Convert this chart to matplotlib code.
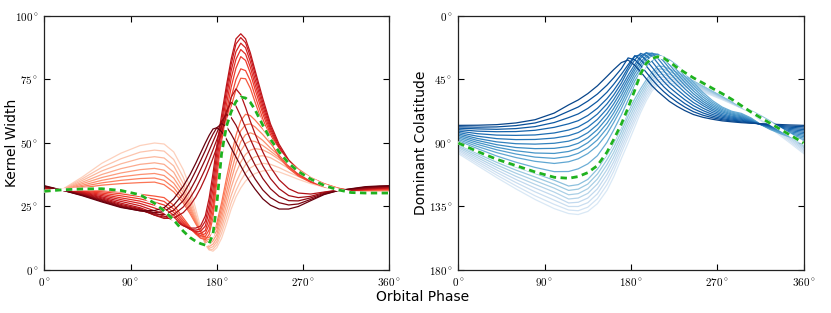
import numpy as np
import matplotlib
matplotlib.use("Agg")
import matplotlib.pyplot as plt

# ---------------- data: left panel (Kernel Width, degrees) ----------------
phase_left = [0, 20, 40, 60, 80, 100, 115, 125, 135, 145, 152, 158, 163, 168, 172, 176, 180,
              185, 190, 195, 200, 205, 210, 215, 220, 228, 236, 245, 255, 265, 278, 292,
              306, 320, 335, 350, 360]

kw_00 = [30.4, 32.0, 36.7, 42, 46, 49, 50, 49.6, 46.5, 39.5, 32.5, 24, 17, 11, 8, 7.4, 8.8, 12.5, 18, 24, 28.8, 32.3, 35, 36.8, 38, 39, 39.3, 38.6, 37.2, 35.7, 34, 32.6, 31.6, 31, 30.7, 30.5, 30.4]
kw_01 = [30.6, 31.9, 36, 40.4, 43.8, 46.4, 47.2, 46.8, 43.5, 36.5, 29.5, 22, 15.5, 10, 7.9, 8.2, 10, 14.5, 20.5, 26.5, 31.3, 35.2, 38.2, 40.2, 41.3, 42, 41.6, 40.3, 38.5, 36.8, 34.8, 33.1, 31.8, 31.1, 30.8, 30.7, 30.6]
kw_02 = [30.8, 31.8, 35.3, 39, 41.8, 43.9, 44.6, 44.1, 41, 34, 27.5, 21, 15.5, 10.5, 8.5, 9.2, 11.2, 16.5, 23, 29.3, 34.5, 38.5, 41.5, 43.5, 44.6, 45, 44.2, 42.3, 40, 37.8, 35.5, 33.5, 32, 31.2, 30.9, 30.8, 30.8]
kw_03 = [31.0, 31.7, 34.6, 37.6, 39.9, 41.6, 42.2, 41.6, 38.5, 32, 26, 20, 15, 10.8, 9.2, 10.2, 12.5, 18.5, 25.5, 32.5, 38.3, 42.5, 45.5, 47.2, 47.8, 47.3, 45.8, 43.5, 40.8, 38.5, 35.9, 33.8, 32.1, 31.2, 30.9, 30.9, 31.0]
kw_04 = [31.1, 31.6, 34, 36.4, 38.2, 39.5, 40, 39.3, 36.2, 30.5, 25, 19.5, 15, 11.2, 10, 11.5, 14, 20.5, 28, 35.5, 42, 46.8, 49.8, 50.8, 50.6, 49, 46.8, 44.2, 41.3, 38.8, 36, 33.8, 32.1, 31.2, 31, 31, 31.1]
kw_05 = [31.3, 31.5, 33.4, 35.3, 36.7, 37.6, 38, 37.2, 34.2, 29, 24, 19, 15, 11.8, 11, 13, 15.5, 22.5, 30.5, 38.5, 45.5, 50.5, 53.3, 54, 53.3, 51, 48, 45, 41.8, 39, 36.1, 33.9, 32.2, 31.2, 31.1, 31.2, 31.3]
kw_06 = [31.4, 31.4, 32.9, 34.3, 35.3, 36, 36.2, 35.3, 32.4, 27.6, 23, 18.6, 15, 12.3, 12, 14.5, 17, 24.5, 33.5, 42, 49.5, 54.8, 57.2, 57.5, 56.3, 53.3, 49.8, 46, 42.5, 39.3, 36.2, 33.9, 32.2, 31.2, 31.2, 31.3, 31.4]
kw_07 = [31.6, 31.4, 32.4, 33.4, 34, 34.4, 34.6, 33.6, 30.8, 26.4, 22.2, 18.2, 15.1, 12.8, 12.8, 14.8, 18.5, 26.5, 36, 45, 53, 58.8, 61.3, 60.8, 59, 55.5, 51.5, 47.3, 43.3, 39.8, 36.4, 34, 32.3, 31.2, 31.3, 31.5, 31.6]
kw_08 = [31.7, 31.4, 31.5, 31.3, 30.7, 29.8, 29.1, 28.5, 25.5, 20.5, 17, 14.2, 12.5, 12, 14, 20.5, 31.5, 44, 55.5, 64.5, 71, 75.5, 75.3, 71.5, 66, 57.5, 50.5, 44.5, 40, 37, 34.5, 32.8, 31.6, 31.1, 31.4, 31.6, 31.7]
kw_09 = [31.8, 31.4, 31.2, 30.8, 30, 28.9, 27.9, 27, 24, 19.6, 16.6, 14.3, 13, 13.2, 15.8, 23, 34, 47, 58.5, 68, 75, 79.2, 78.5, 74.5, 68.5, 59.5, 52, 45.5, 40.7, 37.4, 34.7, 32.9, 31.6, 31.1, 31.5, 31.7, 31.8]
kw_10 = [32.0, 31.4, 31.0, 30.3, 29.2, 28, 26.7, 25.6, 22.7, 18.9, 16.3, 14.5, 13.6, 14.3, 18, 25.5, 37, 50, 62, 72, 79.5, 84, 82.5, 77.5, 71, 61.5, 53.3, 46.5, 41.3, 37.8, 34.9, 33, 31.7, 31.1, 31.6, 31.9, 32.0]
kw_11 = [32.1, 31.4, 30.8, 29.8, 28.4, 27.1, 25.5, 24.3, 21.6, 18.3, 16.1, 14.8, 14.3, 15.6, 20.3, 28.5, 40, 53, 65, 75.5, 83, 86.8, 85, 79.8, 73, 63, 54.5, 47.3, 41.8, 38.2, 35.1, 33.1, 31.7, 31.2, 31.7, 32, 32.1]
kw_12 = [32.3, 31.4, 30.6, 29.3, 27.7, 26.2, 24.4, 23.1, 20.7, 17.8, 16, 15.2, 15.2, 17.3, 23, 31.8, 43, 56, 68, 78.5, 86, 89.3, 87.5, 82, 75, 64.5, 55.5, 48, 42.3, 38.5, 35.3, 33.2, 31.8, 31.3, 31.8, 32.1, 32.3]
kw_13 = [32.4, 31.4, 30.4, 28.8, 27, 25.3, 23.3, 22.1, 20, 17.5, 16.1, 15.7, 16.2, 19.2, 25.7, 35, 46, 58.5, 70.5, 81, 89, 91.5, 89.5, 84, 77, 66, 56.5, 48.7, 42.8, 38.9, 35.5, 33.3, 31.8, 31.3, 31.9, 32.2, 32.4]
kw_14 = [32.5, 31.4, 30.2, 28.4, 26.3, 24.5, 22.4, 21.2, 19.5, 17.4, 16.5, 16.5, 17.3, 21.3, 28.3, 38, 49, 61, 72.5, 83, 91, 93, 91, 85.5, 78.5, 67.5, 57.5, 49.5, 43.3, 39.2, 35.7, 33.4, 31.9, 31.4, 32, 32.3, 32.5]
kw_15 = [32.6, 31.3, 30, 28, 25.8, 24.1, 21.6, 20.3, 20.4, 22.6, 25.4, 28.7, 32.2, 36.3, 40, 44, 48.3, 54, 61, 68, 71.3, 69, 64, 58.5, 53.5, 46.5, 40.5, 35.5, 32, 30.3, 29.9, 30.7, 31.4, 31.6, 32, 32.4, 32.6]
kw_16 = [32.8, 31.3, 29.8, 27.7, 25.4, 23.8, 21.6, 20.8, 21.8, 24.8, 28.3, 32, 35.8, 39.8, 43.5, 47.3, 51.3, 56.5, 62.5, 66, 64.5, 60.5, 56, 51.5, 47.3, 41, 36, 32, 29.3, 28.5, 29, 30.5, 31.4, 31.7, 32.2, 32.6, 32.8]
kw_17 = [32.9, 31.3, 29.6, 27.4, 25.1, 23.5, 22, 21.8, 23.5, 27.3, 31.3, 35.5, 39.5, 43.5, 47, 50.5, 54, 58.5, 61.3, 60, 57, 53, 49, 45, 41.3, 36, 32, 29, 27.3, 27.2, 28.4, 30.2, 31.3, 31.8, 32.4, 32.8, 32.9]
kw_18 = [33.0, 31.3, 29.4, 27.1, 24.8, 23.3, 22.6, 23, 25.5, 30, 34.5, 39, 43, 47, 50.5, 53.5, 56, 57.6, 56.5, 53.5, 50, 46.3, 42.5, 39, 35.8, 31.5, 28.5, 26.5, 25.6, 26, 27.8, 29.9, 31.2, 31.9, 32.6, 32.9, 33.0]
kw_19 = [33.2, 31.3, 29.2, 26.8, 24.6, 23.3, 23.4, 24.5, 28, 33, 37.5, 42, 46, 50, 53, 55.5, 56, 54.5, 51.5, 48, 44.5, 41, 37.5, 34.5, 31.8, 28, 25.5, 24, 24, 25, 27.3, 29.7, 31.2, 32, 32.8, 33.1, 33.2]
kw_green = [31.0, 31.6, 31.9, 32, 31.3, 29.6, 26.3, 23.3, 19.7, 15.3, 12.8, 11.3, 10.4, 9.8, 10.5, 14, 26, 46, 56.5, 62.3, 66.3, 68.1, 67.7, 66, 63, 57, 51.5, 46.5, 42, 38.8, 35.8, 33.3, 31.6, 30.5, 30.3, 30.3, 30.3]

# ---------------- data: right panel (Dominant Colatitude, degrees) ----------------
phase_right = [0, 20, 40, 60, 80, 100, 115, 125, 135, 145, 155, 162, 170, 177, 184, 190, 196,
               202, 208, 214, 220, 228, 236, 245, 255, 265, 275, 285, 295, 305, 315, 325,
               335, 345, 360]

dc_00 = [97.5, 106, 114.5, 122.5, 130, 136.5, 140, 140.7, 138.5, 133, 123.5, 114, 101, 90, 78.5, 68.5, 60, 53, 48.8, 48.3, 48.8, 49.5, 50.5, 52, 54, 56.5, 59.3, 62.3, 65.3, 68.5, 74, 79.3, 84.5, 89.6, 97.5]
dc_01 = [96.5, 104.6, 112.7, 120.3, 127.4, 133.5, 137.5, 138, 135.5, 129.5, 119.5, 110, 97, 86, 75, 66, 57.8, 51.2, 46.8, 46.6, 47.5, 48.2, 49.5, 51.2, 53.4, 56, 58.9, 62, 65.2, 68.2, 73.5, 78.6, 83.6, 88.6, 96.5]
dc_02 = [95.4, 103.2, 110.9, 118, 124.6, 130.5, 135, 135, 132.3, 126, 115.8, 106.5, 94, 83, 72.3, 63.6, 55.7, 49.5, 45.2, 45, 46, 47, 48.4, 50.3, 52.8, 55.5, 58.6, 61.8, 65.1, 68, 73, 77.9, 82.8, 87.6, 95.4]
dc_03 = [94.4, 101.8, 109.1, 115.8, 121.9, 127.6, 132.5, 132, 129, 122.5, 112.3, 103.3, 91, 80, 69.5, 61.2, 53.6, 47.6, 43.4, 43.2, 44.5, 45.7, 47.3, 49.4, 52.1, 55, 58.3, 61.6, 65, 67.8, 72.5, 77.2, 82, 86.6, 94.4]
dc_04 = [93.3, 100.4, 107.3, 113.6, 119.3, 124.8, 129.7, 129, 125.7, 119, 108.8, 100, 88, 77, 66.8, 58.8, 51.5, 45.7, 41.5, 41.4, 43, 44.4, 46.2, 48.6, 51.5, 54.6, 58, 61.4, 64.9, 67.6, 72, 76.5, 81.1, 85.6, 93.3]
dc_05 = [92.3, 99, 105.5, 111.4, 116.7, 122, 126.7, 125.9, 122.4, 115.5, 105.3, 96.7, 85, 74, 64.1, 56.4, 49.4, 43.8, 39.6, 39.6, 41.4, 43, 45.1, 47.7, 50.9, 54.2, 57.7, 61.2, 64.8, 67.4, 71.5, 75.8, 80.2, 84.6, 92.3]
dc_06 = [91.2, 97.6, 103.7, 109.2, 114.1, 119.2, 123.6, 122.7, 119.1, 112, 101.8, 93.4, 82, 71, 61.4, 54, 47.3, 41.8, 37.5, 37.7, 39.5, 41.5, 44, 46.9, 50.2, 53.7, 57.3, 61, 64.6, 67.2, 71, 75.1, 79.3, 83.6, 91.2]
dc_07 = [90.2, 96.2, 101.9, 107, 111.5, 116.4, 120.5, 119.5, 115.8, 108.5, 98.3, 90.1, 79, 68, 58.7, 51.6, 45.2, 39.8, 35.5, 35.8, 37.5, 40, 42.8, 46, 49.6, 53.3, 57, 60.8, 64.5, 67, 70.5, 74.4, 78.4, 82.6, 90.2]
dc_08 = [88.5, 94, 99.2, 103.6, 107.3, 110.3, 110.2, 108.3, 104.8, 99, 89.5, 80.8, 70, 59.5, 49, 41.5, 35.5, 31.5, 29.5, 29.5, 31, 35, 40.5, 47, 54.2, 60, 64.5, 67.5, 69, 72.2, 76.8, 80.4, 83.2, 85.6, 88.5]
dc_09 = [87.5, 92.5, 96.8, 100.3, 103, 104.5, 103.3, 101.2, 97.5, 92, 83.5, 75.5, 65.5, 55.5, 46, 39.2, 33.5, 29.8, 28.5, 29, 31.5, 36.5, 42.5, 49, 55.8, 61.2, 65.3, 68.1, 69.6, 72.6, 76.8, 80.1, 82.7, 84.9, 87.5]
dc_10 = [86.5, 91, 94.8, 97.8, 100, 100.9, 99.5, 97.3, 93.5, 87.8, 79.5, 72, 62.3, 52.5, 43.3, 37, 31.5, 28, 27.7, 29, 32.5, 38.5, 44.6, 51, 57.4, 62.4, 66.2, 68.8, 70.2, 73, 76.8, 79.8, 82.2, 84.2, 86.5]
dc_11 = [85.5, 89.6, 93, 95.5, 97.1, 97.4, 96, 93.8, 89.8, 84, 76, 68.7, 59.2, 49.8, 40.8, 34.8, 29.5, 26.9, 27, 30, 34.5, 40.8, 46.8, 53, 59, 63.6, 67.1, 69.5, 70.8, 73.4, 76.8, 79.5, 81.7, 83.5, 85.5]
dc_12 = [84.5, 88.2, 91.2, 93.2, 94, 93.8, 92.4, 90.2, 86.3, 80.5, 72.5, 65.5, 56.2, 47, 38.5, 32.7, 28, 26.3, 27.8, 32, 37, 43.2, 49, 55, 60.5, 64.8, 68, 70.2, 71.4, 73.8, 76.8, 79.2, 81.2, 82.8, 84.5]
dc_13 = [83.5, 86.8, 89.2, 90.5, 90.8, 90.2, 88.7, 86.5, 82.7, 77, 69.2, 62.3, 53.3, 44.5, 36.5, 30, 26.3, 26.5, 30, 35, 40, 46, 51.5, 57, 62, 66, 69, 71, 72, 74.2, 76.8, 78.9, 80.6, 82, 83.5]
dc_14 = [82.5, 85.2, 86.9, 87.6, 87.5, 86.5, 84.8, 82.6, 78.8, 73.3, 65.8, 59.2, 50.5, 42, 34.3, 28.5, 26, 28.5, 33.5, 38.6, 43.6, 49, 54, 59, 63.5, 67.2, 70, 71.7, 72.6, 74.6, 76.8, 78.6, 80, 81.2, 82.5]
dc_15 = [81.5, 83.4, 84.4, 84.6, 84.3, 82.9, 80.8, 78.6, 74.8, 69.5, 62.3, 56, 47.6, 38.5, 31, 26.5, 28, 32.3, 37.5, 42.5, 47.2, 52, 56.6, 61.3, 65.3, 68.5, 70.9, 72.4, 73.2, 74.9, 76.8, 78.3, 79.4, 80.4, 81.5]
dc_16 = [80.5, 81.6, 82, 81.9, 81, 78.9, 76.4, 74.2, 70.5, 65.4, 58.6, 52.7, 44.8, 36.5, 28.5, 27.5, 31.5, 36.3, 41.5, 46.3, 50.5, 55, 59.3, 63.5, 67, 69.8, 71.8, 73.1, 73.8, 75.2, 76.7, 77.9, 78.8, 79.6, 80.5]
dc_17 = [79.5, 80, 80.3, 79.8, 78.4, 75.5, 72, 69.4, 65.5, 60.5, 54, 48.4, 41.3, 34.5, 28.1, 31, 35.5, 40.5, 45.5, 50, 53.8, 58, 62, 65.7, 68.7, 71, 72.7, 73.8, 74.4, 75.5, 76.6, 77.5, 78.2, 78.8, 79.5]
dc_18 = [78.5, 78.8, 78.6, 77.7, 75.8, 72, 67.5, 64.5, 60.3, 55.3, 49, 43.8, 37.3, 29.7, 31, 35, 40, 45, 49.5, 53.5, 57, 61, 64.5, 67.8, 70.3, 72.1, 73.5, 74.4, 75, 75.8, 76.5, 77.1, 77.6, 78, 78.5]
dc_19 = [77.5, 77.4, 77, 75.8, 73.5, 68.8, 63, 59.5, 55, 49.5, 42.8, 38, 33, 31.2, 35, 39.5, 44.5, 49.5, 53.5, 57, 60.5, 64, 67, 69.8, 71.8, 73.2, 74.3, 75, 75.6, 76, 76.3, 76.6, 76.9, 77.2, 77.5]
dc_green = [90, 96, 101.5, 106, 110.5, 114.3, 115, 113.8, 111, 106, 96.5, 87.5, 76.5, 65, 52.5, 41, 33.5, 30, 28.8, 29.8, 32.5, 36.5, 40, 43.8, 47.5, 51.3, 55, 59, 63.5, 68, 72, 76, 80, 84, 90]

# family position of each curve (index 8 of 21 is the highlighted green curve)
family_slots = [0, 1, 2, 3, 4, 5, 6, 7, 9, 10, 11, 12, 13, 14, 15, 16, 17, 18, 19, 20]

kw_family = [kw_00, kw_01, kw_02, kw_03, kw_04, kw_05, kw_06, kw_07, kw_08, kw_09,
             kw_10, kw_11, kw_12, kw_13, kw_14, kw_15, kw_16, kw_17, kw_18, kw_19]
dc_family = [dc_00, dc_01, dc_02, dc_03, dc_04, dc_05, dc_06, dc_07, dc_08, dc_09,
             dc_10, dc_11, dc_12, dc_13, dc_14, dc_15, dc_16, dc_17, dc_18, dc_19]

x_ticks = [0, 90, 180, 270, 360]
kw_ticks = [0, 25, 50, 75, 100]
dc_ticks = [0, 45, 90, 135, 180]

plt.rcParams["mathtext.fontset"] = "cm"
fig = plt.figure(figsize=(8.31, 3.13), dpi=100)
axL = fig.add_axes([0.0533, 0.1374, 0.4152, 0.8115])
axR = fig.add_axes([0.5515, 0.1374, 0.4156, 0.8115])

def deg_labels(vals):
    return [r"$%d^\circ$" % v for v in vals]

def draw(ax, phase, family, green, cmap, lo, hi):
    for slot, ys in zip(family_slots, family):
        c = cmap(lo + (hi - lo) * slot / 20.0)
        ax.plot(phase, ys, color=c, lw=0.9, solid_joinstyle="round", zorder=2)
    ax.plot(phase, green, color="white", lw=2.2, zorder=3)
    ax.plot(phase, green, color="#1fb21f", lw=2.0, dashes=(2.3, 1.6), zorder=4)
    ax.set_xlim(0, 360)
    ax.set_xticks(x_ticks)
    ax.set_xticklabels(deg_labels(x_ticks))
    ax.tick_params(direction="in", top=True, right=True, length=4, width=0.8,
                   pad=4, labelsize=8)
    for s in ax.spines.values():
        s.set_linewidth(0.9)
        s.set_color("#222222")

draw(axL, phase_left, kw_family, kw_green, plt.cm.Reds, 0.18, 1.0)
axL.set_ylim(0, 100)
axL.set_yticks(kw_ticks)
axL.set_yticklabels(deg_labels(kw_ticks))

draw(axR, phase_right, dc_family, dc_green, plt.cm.Blues, 0.15, 0.92)
axR.set_ylim(180, 0)
axR.set_yticks(dc_ticks)
axR.set_yticklabels(deg_labels(dc_ticks))

fig.text(0.0144, 0.543, "Kernel Width", rotation=90, ha="center", va="center", fontsize=10)
fig.text(0.5065, 0.543, "Dominant Colatitude", rotation=90, ha="center", va="center", fontsize=10)
fig.text(0.509, 0.051, "Orbital Phase", ha="center", va="center", fontsize=10)

fig.savefig("out.png", dpi=100)
